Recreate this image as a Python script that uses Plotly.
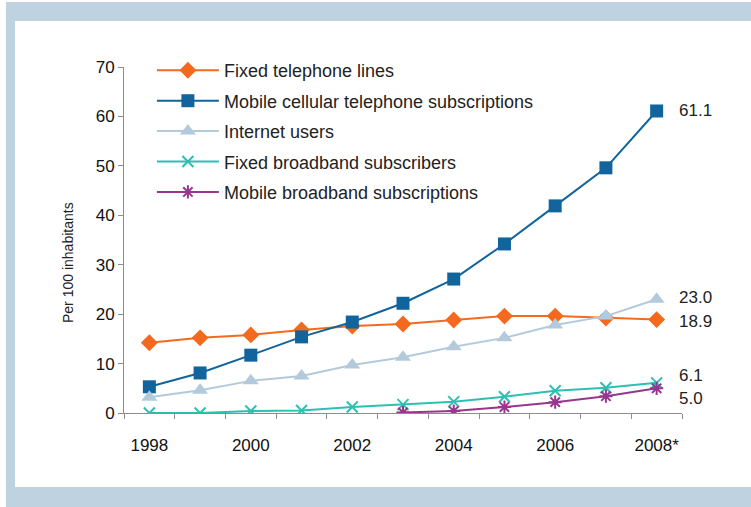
import plotly.graph_objects as go

years = [1998, 1999, 2000, 2001, 2002, 2003, 2004, 2005, 2006, 2007, 2008]
tick_years = [1998, 2000, 2002, 2004, 2006, 2008]
tick_labels = ["1998", "2000", "2002", "2004", "2006", "2008*"]

fixed_tel = [14.2, 15.2, 15.8, 16.8, 17.6, 18.0, 18.8, 19.6, 19.6, 19.2, 18.9]
mobile_cell = [5.3, 8.1, 11.7, 15.4, 18.4, 22.2, 27.1, 34.2, 41.9, 49.6, 61.1]
internet = [3.2, 4.6, 6.5, 7.5, 9.7, 11.3, 13.4, 15.2, 17.8, 19.6, 23.0]
fixed_bb = [0.0, 0.0, 0.4, 0.5, 1.2, 1.7, 2.3, 3.3, 4.5, 5.1, 6.1]
mobile_bb_years = [2003, 2004, 2005, 2006, 2007, 2008]
mobile_bb = [0.1, 0.4, 1.2, 2.2, 3.4, 5.0]

W, H = 751, 507
L, R, T, B = 124, 682, 67, 413

def px(x):
    return (x - L) / (R - L)

def py(y):
    return (B - y) / (B - T)

fig = go.Figure()

series = [
    ("Fixed telephone lines", years, fixed_tel, "#F36A1F",
     dict(symbol="diamond", size=13, color="#F36A1F")),
    ("Mobile cellular telephone subscriptions", years, mobile_cell, "#11649C",
     dict(symbol="square", size=13, color="#11649C")),
    ("Internet users", years, internet, "#B3CADD",
     dict(symbol="triangle-up", size=14, color="#B3CADD")),
    ("Fixed broadband subscribers", years, fixed_bb, "#2DC0B2",
     dict(symbol="x-thin", size=11, color="#2DC0B2", line=dict(color="#2DC0B2", width=2))),
    ("Mobile broadband subscriptions", mobile_bb_years, mobile_bb, "#98368F",
     dict(symbol="asterisk", size=11, color="#98368F", line=dict(color="#98368F", width=2))),
]

for i, (name, xs, ys, col, mk) in enumerate(series):
    fig.add_trace(go.Scatter(
        x=xs, y=ys, name=name, mode="lines+markers",
        line=dict(color=col, width=2), marker=mk,
        legendgroup=str(i),
    ))

# end labels
end_labels = [
    (mobile_cell[-1], 0),
    (internet[-1], 2),
    (fixed_tel[-1], -2),
    (fixed_bb[-1], 7),
    (mobile_bb[-1], -10),
]
for val, ys in end_labels:
    fig.add_annotation(x=years[-1], y=val, xref="x", yref="y",
                       text=f"{val:.1f}", showarrow=False,
                       xanchor="left", xshift=20, yshift=ys,
                       font=dict(size=17, color="#222222"))

# y-axis title
fig.add_annotation(x=px(68), y=py(263), xref="paper", yref="paper",
                   text="Per 100 inhabitants", textangle=-90, showarrow=False,
                   xanchor="center", yanchor="middle",
                   font=dict(size=14, color="#222222"))

shapes = [
    dict(type="rect", xref="paper", yref="paper", layer="below",
         x0=px(6), x1=px(751), y0=py(507), y1=py(2),
         fillcolor="#BFD2E0", line=dict(width=0)),
    dict(type="rect", xref="paper", yref="paper", layer="below",
         x0=px(15), x1=px(760), y0=py(487), y1=py(21),
         fillcolor="#FFFFFF", line=dict(width=0)),
]

fig.update_layout(
    width=W, height=H,
    margin=dict(l=L, r=W - R, t=T, b=H - B),
    paper_bgcolor="#FFFFFF", plot_bgcolor="rgba(0,0,0,0)",
    font=dict(family="Liberation Sans, Arial, sans-serif", size=17, color="#222222"),
    shapes=shapes,
    showlegend=True,
    legend=dict(x=0.05, y=1.043, xanchor="left", yanchor="top",
                bgcolor="rgba(0,0,0,0)", font=dict(size=18, color="#222222"),
                tracegroupgap=4, itemwidth=62),
    xaxis=dict(range=[1997.5, 2008.5], tickmode="array", tickvals=tick_years,
               ticktext=tick_labels, ticks="outside", ticklen=17,
               tickcolor="rgba(0,0,0,0)", showgrid=False, zeroline=False,
               showline=True, linecolor="#8C8C8C", linewidth=1,
               tickfont=dict(size=17, color="#111111"),
               minor=dict(tickmode="linear", tick0=1997.5, dtick=1, ticks="outside",
                          ticklen=5, tickcolor="#8C8C8C", showgrid=False)),
    yaxis=dict(range=[0, 70], dtick=10, ticks="outside", ticklen=5,
               tickcolor="#8C8C8C", showgrid=False, zeroline=False,
               showline=True, linecolor="#8C8C8C", linewidth=1,
               tickfont=dict(size=17, color="#111111")),
)

fig.write_html("out.html", config={"displayModeBar": False},
               post_script="document.body.style.margin='0';")
